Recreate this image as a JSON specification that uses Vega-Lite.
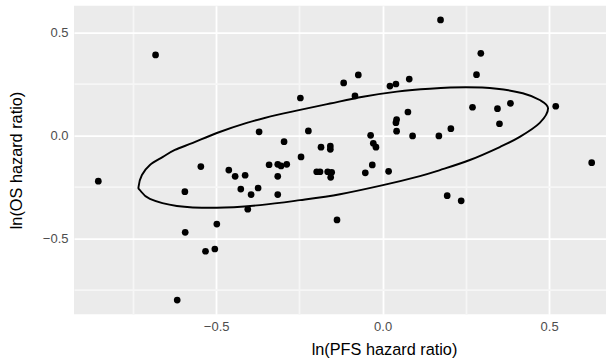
{
  "$schema": "https://vega.github.io/schema/vega-lite/v6.json",
  "width": 532,
  "height": 308.6,
  "autosize": {"type": "none"},
  "padding": {"left": 74, "top": 5.7, "right": 0, "bottom": 47.7},
  "background": "white",
  "config": {
    "view": {"fill": "#EBEBEB", "stroke": null},
    "axis": {
      "domain": false,
      "grid": true,
      "gridWidth": 1.8,
      "ticks": false,
      "labelColor": "#4D4D4D",
      "labelFont": "Liberation Sans",
      "labelFontSize": 13,
      "labelPadding": 6,
      "titleFont": "Liberation Sans",
      "titleFontSize": 16.3,
      "titleFontWeight": "normal",
      "titleColor": "black"
    }
  },
  "datasets": {
    "pts": [
      {"pfs": -0.854, "os": -0.221}, {"pfs": -0.682, "os": 0.392}, {"pfs": -0.617, "os": -0.798},
      {"pfs": -0.594, "os": -0.272}, {"pfs": -0.593, "os": -0.469}, {"pfs": -0.546, "os": -0.150},
      {"pfs": -0.532, "os": -0.561}, {"pfs": -0.504, "os": -0.550}, {"pfs": -0.498, "os": -0.429},
      {"pfs": -0.462, "os": -0.167}, {"pfs": -0.443, "os": -0.197}, {"pfs": -0.426, "os": -0.259},
      {"pfs": -0.413, "os": -0.192}, {"pfs": -0.405, "os": -0.357}, {"pfs": -0.395, "os": -0.286},
      {"pfs": -0.374, "os": -0.254}, {"pfs": -0.371, "os": 0.019}, {"pfs": -0.341, "os": -0.141},
      {"pfs": -0.315, "os": -0.139}, {"pfs": -0.305, "os": -0.147}, {"pfs": -0.315, "os": -0.197},
      {"pfs": -0.315, "os": -0.286}, {"pfs": -0.296, "os": -0.029}, {"pfs": -0.288, "os": -0.139},
      {"pfs": -0.247, "os": 0.183}, {"pfs": -0.245, "os": -0.103}, {"pfs": -0.223, "os": 0.023},
      {"pfs": -0.198, "os": -0.175}, {"pfs": -0.188, "os": -0.175}, {"pfs": -0.185, "os": -0.056},
      {"pfs": -0.165, "os": -0.175}, {"pfs": -0.157, "os": -0.050}, {"pfs": -0.157, "os": -0.066},
      {"pfs": -0.153, "os": -0.178}, {"pfs": -0.156, "os": -0.202}, {"pfs": -0.137, "os": -0.409},
      {"pfs": -0.117, "os": 0.256}, {"pfs": -0.083, "os": 0.193}, {"pfs": -0.073, "os": 0.295},
      {"pfs": -0.052, "os": -0.180}, {"pfs": -0.036, "os": 0.002}, {"pfs": -0.031, "os": -0.142},
      {"pfs": -0.028, "os": -0.037}, {"pfs": -0.020, "os": -0.056}, {"pfs": 0.018, "os": -0.173},
      {"pfs": 0.022, "os": 0.241}, {"pfs": 0.040, "os": 0.251}, {"pfs": 0.042, "os": 0.078},
      {"pfs": 0.040, "os": 0.063}, {"pfs": 0.042, "os": 0.022}, {"pfs": 0.076, "os": 0.115},
      {"pfs": 0.080, "os": 0.275}, {"pfs": 0.090, "os": -0.001}, {"pfs": 0.169, "os": -0.001},
      {"pfs": 0.174, "os": 0.562}, {"pfs": 0.194, "os": -0.291}, {"pfs": 0.205, "os": 0.034},
      {"pfs": 0.236, "os": -0.316}, {"pfs": 0.270, "os": 0.138}, {"pfs": 0.282, "os": 0.296},
      {"pfs": 0.295, "os": 0.400}, {"pfs": 0.345, "os": 0.131}, {"pfs": 0.351, "os": 0.058},
      {"pfs": 0.384, "os": 0.157}, {"pfs": 0.520, "os": 0.143}, {"pfs": 0.628, "os": -0.131}
    ],
    "ell": [
      {"i": 0, "x": -0.733, "y": -0.247}, {"i": 1, "x": -0.723, "y": -0.191}, {"i": 2, "x": -0.699, "y": -0.142},
      {"i": 3, "x": -0.660, "y": -0.103}, {"i": 4, "x": -0.624, "y": -0.069}, {"i": 5, "x": -0.570, "y": -0.035},
      {"i": 6, "x": -0.498, "y": 0.013}, {"i": 7, "x": -0.408, "y": 0.062}, {"i": 8, "x": -0.317, "y": 0.101},
      {"i": 9, "x": -0.248, "y": 0.125}, {"i": 10, "x": -0.158, "y": 0.156}, {"i": 11, "x": -0.059, "y": 0.189},
      {"i": 12, "x": 0.043, "y": 0.214}, {"i": 13, "x": 0.142, "y": 0.228}, {"i": 14, "x": 0.250, "y": 0.235},
      {"i": 15, "x": 0.343, "y": 0.228}, {"i": 16, "x": 0.421, "y": 0.206}, {"i": 17, "x": 0.472, "y": 0.173},
      {"i": 18, "x": 0.497, "y": 0.133}, {"i": 19, "x": 0.472, "y": 0.062}, {"i": 20, "x": 0.412, "y": -0.006},
      {"i": 21, "x": 0.352, "y": -0.055}, {"i": 22, "x": 0.262, "y": -0.118}, {"i": 23, "x": 0.172, "y": -0.167},
      {"i": 24, "x": 0.112, "y": -0.196}, {"i": 25, "x": 0.001, "y": -0.240}, {"i": 26, "x": -0.128, "y": -0.284},
      {"i": 27, "x": -0.248, "y": -0.313}, {"i": 28, "x": -0.368, "y": -0.337}, {"i": 29, "x": -0.498, "y": -0.350},
      {"i": 30, "x": -0.618, "y": -0.341}, {"i": 31, "x": -0.699, "y": -0.307}, {"i": 32, "x": -0.729, "y": -0.264}
    ]
  },
  "encoding": {
    "x": {"type": "quantitative", "scale": {"domain": [-0.927, 0.671], "nice": false, "zero": false},
          "axis": {"values": [-0.75, -0.5, -0.25, 0, 0.25, 0.5],
                   "labelExpr": "abs(datum.value % 0.5) < 0.001 ? format(datum.value, '.1f') : ''",
                   "gridColor": {"condition": {"test": "abs(datum.value % 0.5) < 0.001", "value": "#FFFFFF"}, "value": "#F6F6F6"},
                   "title": "ln(PFS hazard ratio)", "titlePadding": 8, "titleX": 310}},
    "y": {"type": "quantitative", "scale": {"domain": [-0.867, 0.631], "nice": false, "zero": false},
          "axis": {"values": [-0.75, -0.5, -0.25, 0, 0.25, 0.5],
                   "labelExpr": "abs(datum.value % 0.5) < 0.001 ? format(datum.value, '.1f') : ''",
                   "gridColor": {"condition": {"test": "abs(datum.value % 0.5) < 0.001", "value": "#FFFFFF"}, "value": "#F6F6F6"},
                   "title": "ln(OS hazard ratio)", "titlePadding": 18}}
  },
  "layer": [
    {
      "data": {"name": "ell"},
      "mark": {"type": "line", "color": "black", "strokeWidth": 1.9, "interpolate": "cardinal-closed"},
      "encoding": {
        "x": {"field": "x"},
        "y": {"field": "y"},
        "order": {"field": "i", "type": "quantitative"}
      }
    },
    {
      "data": {"name": "pts"},
      "mark": {"type": "circle", "color": "black", "opacity": 1, "size": 45},
      "encoding": {
        "x": {"field": "pfs"},
        "y": {"field": "os"}
      }
    }
  ]
}
